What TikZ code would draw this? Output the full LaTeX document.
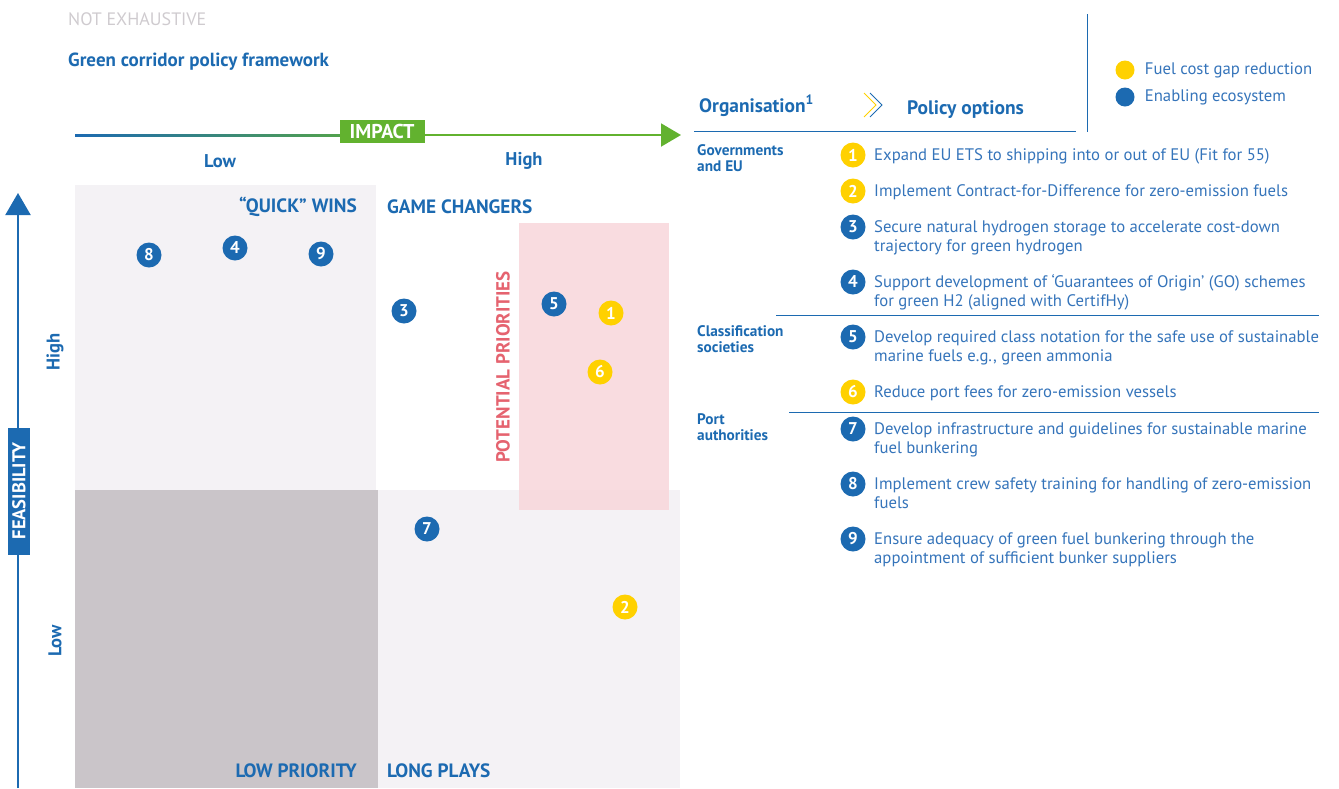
\documentclass[tikz,border=0pt]{standalone}
\usepackage{fontspec}
\setmainfont{PT Sans}
\usetikzlibrary{positioning, arrows.meta}

\definecolor{ptblue}{HTML}{1C6AB1}
\definecolor{itemblue}{HTML}{3574BA}
\definecolor{ptyellow}{HTML}{FFD100}
\definecolor{ptgreen}{HTML}{62B22F}
\definecolor{paleq}{HTML}{F4F2F5}
\definecolor{darkq}{HTML}{CAC5C9}
\definecolor{prio}{HTML}{F8D6DA}
\definecolor{priotext}{HTML}{E5636F}
\definecolor{notex}{HTML}{CFCBCF}

\begin{document}
\begin{tikzpicture}[x=1pt, y=-1pt,
  every node/.style={inner sep=0pt},
  dot/.style={circle, fill=#1, minimum size=25pt, text=white, font=\fontsize{17}{17}\selectfont\bfseries},
  quad/.style={font=\fontsize{19.3}{19.3}\selectfont\bfseries, text=ptblue},
  org/.style={font=\fontsize{15.3}{16}\selectfont\bfseries, text=ptblue, align=left, anchor=base west},
  item/.style={font=\fontsize{16.7}{19}\selectfont, text=itemblue, align=left, anchor=base west},
  axislabel/.style={font=\fontsize{18.5}{18.5}\selectfont\bfseries, text=ptblue, rotate=90},
  rule/.style={draw=ptblue, line width=0.8pt}]
\useasboundingbox (0,0) rectangle (1339,788);

% quadrants
\fill[paleq] (75,185) rectangle (376,490);
\fill[darkq] (75,490) rectangle (378,788);
\fill[paleq] (378,490) rectangle (680,788);
\fill[prio, opacity=0.85] (519,223) rectangle (669,510);

% titles
\node[anchor=west, text=notex, font=\fontsize{18}{18}\selectfont] (notex) at (68,19) {NOT EXHAUSTIVE};
\node[anchor=west, text=ptblue, font=\fontsize{19}{19}\selectfont\bfseries] (title) at (68,62) {Green corridor policy framework};

% impact axis
\coordinate (i0) at (75,135);
\coordinate (i1) at (681,135);
\draw[ptgreen, line width=2pt, -{Triangle[length=20pt,width=23pt]}] (i0) -- (i1);
\shade[left color=ptblue, right color=ptgreen] (75,134) rectangle (420,136);
\node[fill=ptgreen, text=white, minimum width=85pt, minimum height=23pt, font=\fontsize{20}{20}\selectfont\bfseries] (impact) at (382,131) {IMPACT};
\node[quad, font=\fontsize{18.5}{18.5}\selectfont\bfseries] (ilow) at (220,161) {Low};
\node[quad, font=\fontsize{18.5}{18.5}\selectfont\bfseries] (ihigh) at (524,161) {High};

% feasibility axis
\coordinate (f0) at (18,788);
\coordinate (f1) at (18,193);
\draw[ptblue, line width=2.2pt, -{Triangle[length=22pt,width=25pt]}] (f0) -- (f1);
\node[fill=ptblue, text=white, rotate=90, minimum width=127pt, minimum height=22pt, font=\fontsize{18.5}{18.5}\selectfont\bfseries] (feas) at (19,491) {FEASIBILITY};
\node[axislabel] (fhigh) at (55,352) {High};
\node[axislabel] (flow) at (55,641) {Low};

% quadrant labels
\node[quad, anchor=east] (qwins) at (357,207) {“QUICK” WINS};
\node[quad, anchor=west] (qgame) at (387,207) {GAME CHANGERS};
\node[quad, anchor=east] (qlow) at (357,771) {LOW PRIORITY};
\node[quad, anchor=west] (qlong) at (387,771) {LONG PLAYS};
\node[rotate=90, text=priotext, font=\fontsize{19}{19}\selectfont\bfseries] (prio) at (503,367) {POTENTIAL PRIORITIES};

% options in the matrix
\foreach \n/\col/\x/\y in {8/ptblue/149/255, 4/ptblue/235/248, 9/ptblue/321/254,
  3/ptblue/404/311, 5/ptblue/554/304, 1/ptyellow/611/313, 6/ptyellow/600/372,
  7/ptblue/427/529, 2/ptyellow/625/607}
  \node[dot=\col] (d\n) at (\x,\y) {\n};

% legend
\draw[rule] (1087,14) -- (1087,132);
\node[circle, fill=ptyellow, minimum size=19pt] (ly) at (1125,70) {};
\node[circle, fill=ptblue, minimum size=19pt] (lb) at (1125,97) {};
\node[item, anchor=west, right=10pt of ly] (lyt) {Fuel cost gap reduction};
\node[item, anchor=west, right=10pt of lb] (lbt) {Enabling ecosystem};

% table header
\node[anchor=base west, text=ptblue, font=\fontsize{19.4}{19.4}\selectfont\bfseries] (horg) at (699,112) {Organisation\textsuperscript{1}};
\node[anchor=base west, text=ptblue, font=\fontsize{19.5}{19.5}\selectfont\bfseries] (hpol) at (907,114) {Policy options};
\draw[ptyellow, line width=1pt] (864,93) -- (876,105) -- (864,117);
\draw[ptblue, line width=1pt] (870,93) -- (882,105) -- (870,117);
\draw[rule] (694,131) -- (1076,131);
\draw[rule] (776,315) -- (1319,315);
\draw[rule] (789,412) -- (1319,412);

% organisations
\node[org] (gov) at (697,171) {Governments\\and EU};
\node[org] (cls) at (697,352) {Classification\\societies};
\node[org] (port) at (697,440) {Port\\authorities};

% policy options (\k = extra lines)
\foreach \n/\col/\y/\k/\txt in {
  1/ptyellow/155/0/{Expand EU ETS to shipping into or out of EU (Fit for 55)},
  2/ptyellow/191/0/{Implement Contract-for-Difference for zero-emission fuels},
  3/ptblue/227/1/{Secure natural hydrogen storage to accelerate cost-down\\trajectory for green hydrogen},
  4/ptblue/282/1/{Support development of ‘Guarantees of Origin’ (GO) schemes\\for green H2 (aligned with CertifHy)},
  5/ptblue/337/1/{Develop required class notation for the safe use of sustainable\\marine fuels e.g., green ammonia},
  6/ptyellow/392/0/{Reduce port fees for zero-emission vessels},
  7/ptblue/429/1/{Develop infrastructure and guidelines for sustainable marine\\fuel bunkering},
  8/ptblue/484/1/{Implement crew safety training for handling of zero-emission\\fuels},
  9/ptblue/539/1/{Ensure adequacy of green fuel bunkering through the\\appointment of sufficient bunker suppliers}}
{
  \node[dot=\col] (p\n) at (853,\y) {\n};
  \node[item] (t\n) at (874,\y+5.5+\k*19) {\txt};
}
\end{tikzpicture}
\end{document}
